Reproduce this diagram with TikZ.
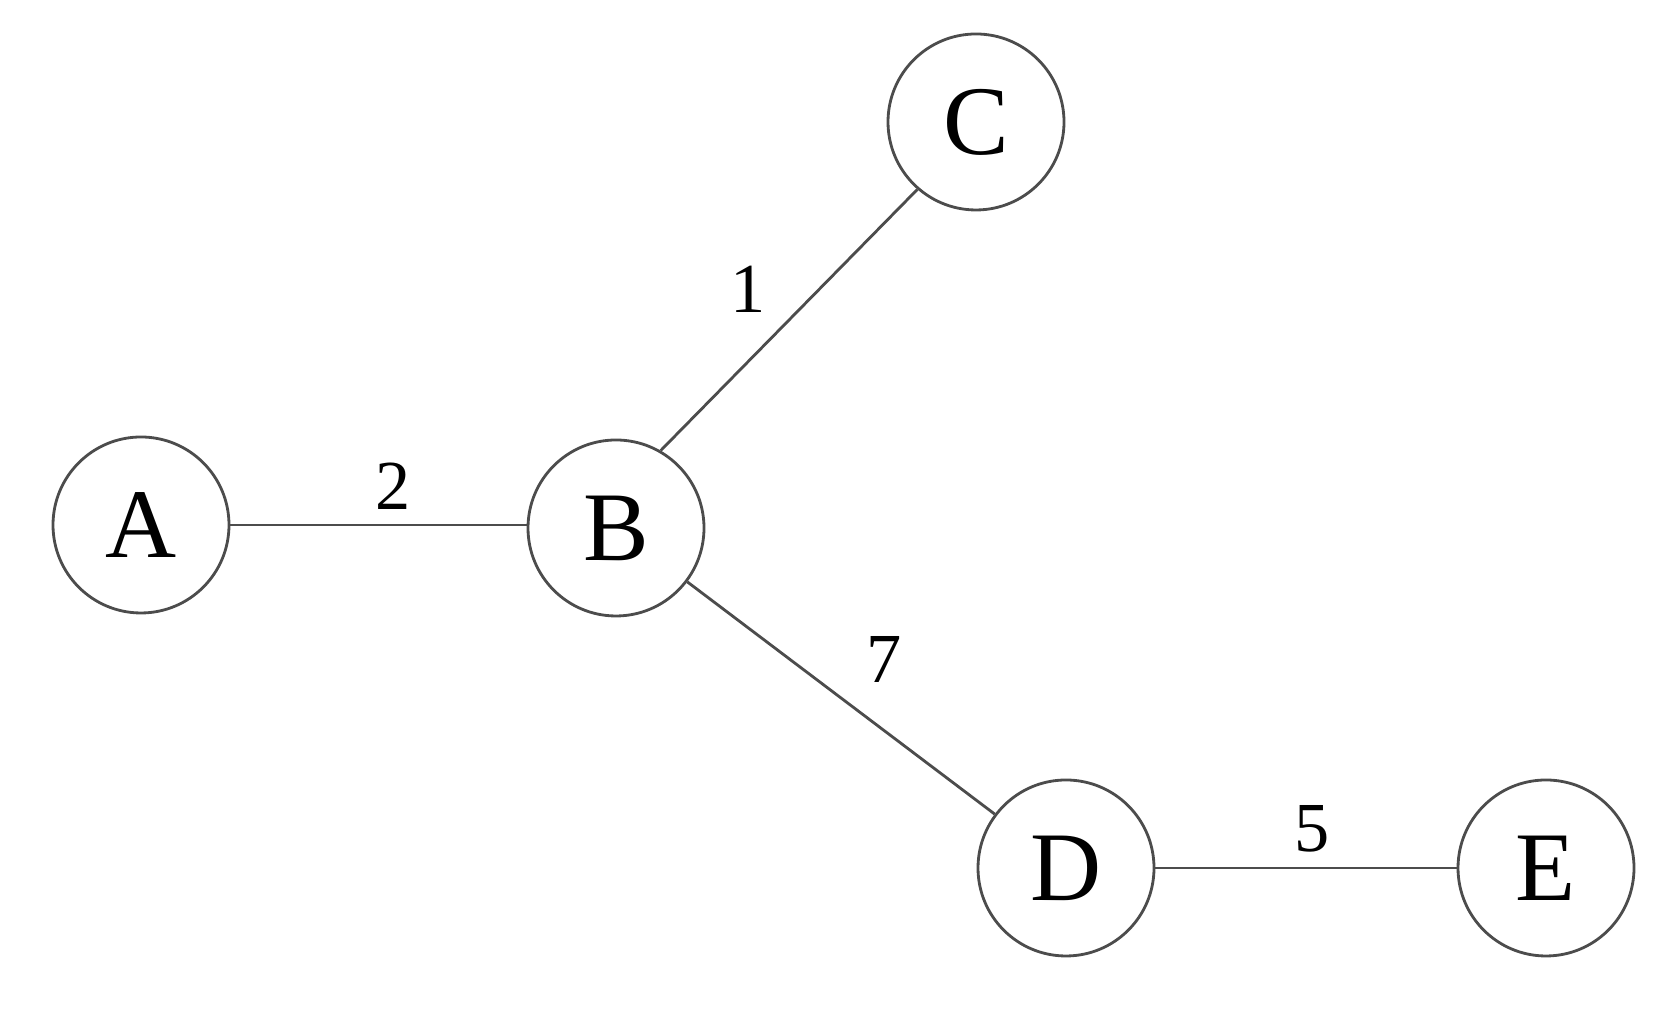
\documentclass[tikz,border=0pt]{standalone}
\usepackage{fontspec}
\setmainfont{Liberation Serif}
\usetikzlibrary{positioning}
\tikzstyle{vertex} = [
circle,
draw=black!70,
line width=0.8pt,
minimum size=1.76cm,
inner sep=0pt,
font=\fontsize{28}{30}\selectfont
]
\tikzstyle{edge} = [
draw=black!70,
line width=0.8pt
]
\tikzstyle{weight} = [
font=\fontsize{20}{24}\selectfont,
inner sep=4pt
]

\begin{document}
\begin{tikzpicture}
			\useasboundingbox (0,0) rectangle (16.8,10.2);
			
			\node (A) [vertex] at (1.41,4.95) {A};
			
			\node (B) [vertex] at (6.16,4.92) {B};
			
			\node (C) [vertex] at (9.76,8.98) {C};
			
			\node (D) [vertex] at (10.66,1.52) {D};
			
			\node (E) [vertex] at (15.46,1.52) {E};
			
			\draw [edge] (A) -- node[weight, above, pos=0.55] {2} (A -| B.west);
			\draw [edge] (B.60) -- node[weight, above left, pos=0.47] {1} (C.229);
			\draw [edge] (B) -- node[weight, above right, pos=0.5, xshift=1mm] {7} (D);
			\draw [edge] (D) -- node[weight, above, pos=0.52] {5} (E);
			
		\end{tikzpicture}
\end{document}
